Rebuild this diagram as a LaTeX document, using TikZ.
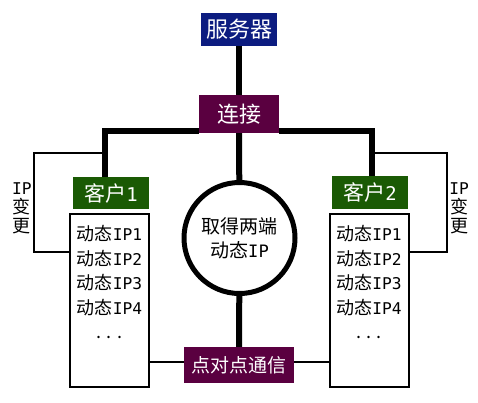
\documentclass[tikz,border=0pt]{standalone}
\usepackage{fontspec}
\setmainfont{Noto Sans CJK SC}
\newfontfamily\halfw{DejaVu Sans Mono}[Scale=0.9]
\newcommand{\hw}[1]{{\halfw #1}}
\usetikzlibrary{positioning}
\definecolor{servblue}{RGB}{12,28,128}
\definecolor{linkpurple}{RGB}{90,0,64}
\definecolor{clientgreen}{RGB}{26,90,4}
\tikzset{
  tag/.style={rectangle, text=white, inner sep=0pt, font=\fontsize{19}{19}\selectfont},
  thickline/.style={line width=6pt},
  thinline/.style={line width=2pt},
  listbox/.style={rectangle, draw, line width=2pt, minimum width=79pt, minimum height=173pt, inner sep=0pt},
  listtext/.style={align=center, font=\fontsize{18}{24.5}\selectfont},
  iplabel/.style={align=center, font=\fontsize{18}{19}\selectfont}
}

\begin{document}
\begin{tikzpicture}[x=1pt,y=-1pt]
		\useasboundingbox (0,0) rectangle (478,402);
		% Define nodes
		\node[tag, fill=servblue, minimum width=76pt, minimum height=33pt, font=\fontsize{22}{22}\selectfont] (serv) at (239,29.5) {服务器};
		\node[tag, fill=linkpurple, minimum width=80pt, minimum height=38pt, font=\fontsize{22}{22}\selectfont] (conn) at (239,114) {连接};
		\node[circle, draw, line width=5pt, minimum size=111pt, inner sep=0pt, align=center, font=\fontsize{19}{24}\selectfont] (both) at (239.5,238) {取得两端\\动态\hw{IP}};
		\node[tag, fill=linkpurple, minimum width=110pt, minimum height=36pt] (p2p) at (239,365) {点对点通信};
		\node[tag, fill=clientgreen, minimum width=76pt, minimum height=32pt, font=\fontsize{21}{21}\selectfont] (cli1) at (111,193) {客户\hw{1}};
		\node[tag, fill=clientgreen, minimum width=76pt, minimum height=33pt, font=\fontsize{21}{21}\selectfont] (cli2) at (370,192.5) {客户\hw{2}};
		\node[listbox] (list1) at (109.5,300.5) {};
		\node[listbox] (list2) at (369,300.5) {};
		\node[listtext, below=9pt of list1.north] (ips1) {动态\hw{IP1}\\动态\hw{IP2}\\动态\hw{IP3}\\动态\hw{IP4}\\. . .};
		\node[listtext, below=9pt of list2.north] (ips2) {动态\hw{IP1}\\动态\hw{IP2}\\动态\hw{IP3}\\动态\hw{IP4}\\. . .};
		\node[iplabel] (chg1) at (22,208) {\hw{IP}\\变\\更};
		\node[iplabel] (chg2) at (459,208) {\hw{IP}\\变\\更};

		% Connect the nodes
		\coordinate (jl) at (105,131);
		\coordinate (jr) at (372,131);
		\coordinate (bl) at (34,153);
		\coordinate (br) at (447,153);
		\draw[thickline] (serv) -- (conn);
		\draw[thickline] (conn) -- (both);
		\draw[thickline] (both) -- (p2p);
		\draw[thickline] (conn.west |- jl) -- (jl) -- (jl |- cli1.north);
		\draw[thickline] (conn.east |- jr) -- (jr) -- (jr |- cli2.north);
		\draw[thinline] (jl |- bl) -- (bl) |- (list1.west |- 0,252);
		\draw[thinline] (jr |- br) -- (br) |- (list2.east |- 0,252);
		\draw[thinline] ([yshift=3pt]p2p.west) -- ([yshift=3pt]list1.east |- p2p.west);
		\draw[thinline] ([yshift=3pt]p2p.east) -- ([yshift=3pt]list2.west |- p2p.east);
	\end{tikzpicture}
\end{document}
